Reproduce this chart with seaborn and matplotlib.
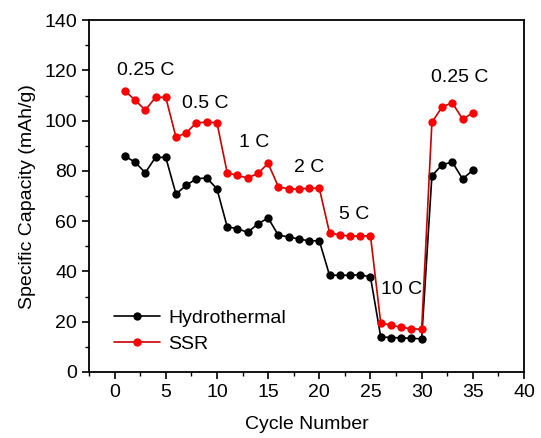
import matplotlib
matplotlib.use("Agg")
import matplotlib.pyplot as plt
import seaborn as sns
import numpy as np
import pandas as pd
from matplotlib.ticker import MultipleLocator

sns.set_style("ticks")
plt.rcParams['font.family'] = ['Liberation Sans', 'DejaVu Sans']
plt.rcParams.update({"text.color": "black", "axes.labelcolor": "black",
                     "xtick.color": "black", "ytick.color": "black",
                     "axes.edgecolor": "black"})

cycles = list(range(1, 36))
hydrothermal = [85.9, 83.5, 79.3, 85.4, 85.4,
                70.8, 74.3, 76.9, 77.2, 72.9,
                57.8, 57.0, 55.6, 58.9, 61.3,
                54.4, 53.8, 52.9, 52.2, 52.2,
                38.5, 38.5, 38.5, 38.7, 37.8,
                14.0, 13.7, 13.6, 13.4, 13.2,
                78.0, 82.5, 83.5, 76.8, 80.3]
ssr = [111.9, 108.2, 104.2, 109.3, 109.3,
       93.4, 95.2, 99.2, 99.4, 99.2,
       79.3, 78.2, 77.2, 79.0, 83.0,
       73.7, 72.8, 72.8, 73.1, 73.1,
       55.4, 54.5, 54.1, 54.1, 54.2,
       19.6, 18.6, 17.8, 17.2, 17.0,
       99.3, 105.5, 107.1, 100.6, 103.1]
rate_labels = ["0.25 C", "0.5 C", "1 C", "2 C", "5 C", "10 C", "0.25 C"]
label_x = [3.0, 8.9, 13.6, 19.0, 23.4, 28.0, 33.7]
label_y = [120, 107, 91.5, 81.5, 62.8, 33, 117]

df = pd.DataFrame({"Cycle": cycles * 2,
                   "Capacity": hydrothermal + ssr,
                   "Sample": ["Hydrothermal"] * 35 + ["SSR"] * 35})

fig = plt.figure(figsize=(5.41, 4.38), dpi=100)
ax = fig.add_axes([0.1645, 0.1507, 0.8041, 0.8033])

sns.lineplot(data=df[df.Sample == "Hydrothermal"], x="Cycle", y="Capacity",
             color="black", marker="o", markersize=6, markeredgewidth=0,
             linewidth=1.2, ax=ax, label="Hydrothermal")
sns.lineplot(data=df[df.Sample == "SSR"], x="Cycle", y="Capacity",
             color="#c80000", marker="o", markersize=6, markeredgewidth=0,
             markerfacecolor="#ff0000", linewidth=1.2, ax=ax, label="SSR")

for t, xx, yy in zip(rate_labels, label_x, label_y):
    ax.text(xx, yy, t, ha="center", va="center", fontsize=14, color="black")

ax.set_xlim(-2.5, 40)
ax.set_ylim(0, 140)
ax.xaxis.set_major_locator(MultipleLocator(5))
ax.xaxis.set_minor_locator(MultipleLocator(2.5))
ax.yaxis.set_major_locator(MultipleLocator(20))
ax.yaxis.set_minor_locator(MultipleLocator(10))
ax.tick_params(which="major", direction="out", length=5, width=1.2, labelsize=14)
ax.tick_params(which="minor", direction="out", length=3, width=1.0)
for s in ax.spines.values():
    s.set_linewidth(1.3)
ax.set_xlabel("Cycle Number", fontsize=14, labelpad=11)
ax.set_ylabel("Specific Capacity (mAh/g)", fontsize=14, labelpad=6)

leg = ax.legend(loc="lower left", bbox_to_anchor=(0.03, 0.02), frameon=False,
                fontsize=14, handlelength=2.4, handletextpad=0.4,
                labelspacing=0.45, borderaxespad=0.2)

fig.savefig("out.png", dpi=100)
